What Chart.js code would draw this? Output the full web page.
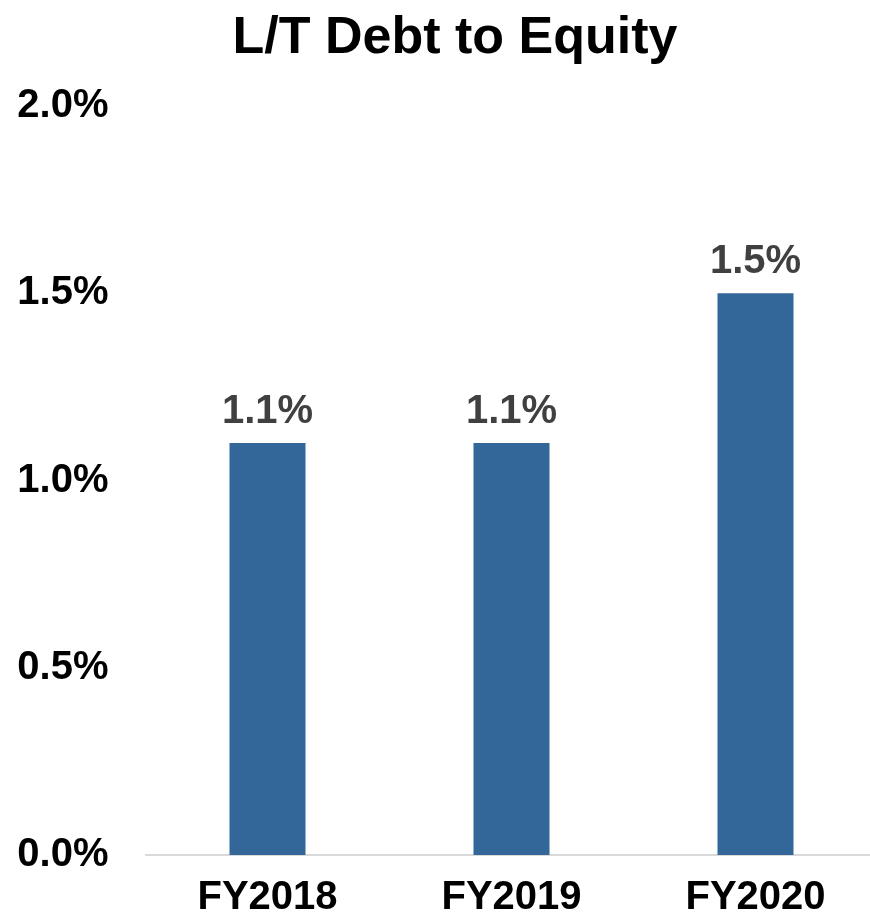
<!DOCTYPE html>
<html>
<head>
<meta charset="utf-8">
<script src="https://cdn.jsdelivr.net/npm/chart.js@4.4.1/dist/chart.umd.min.js"></script>
<style>
  html, body { margin: 0; padding: 0; background: #ffffff; overflow: hidden; width: 870px; height: 921px; }
  #wrap { position: absolute; left: 0; top: 0; width: 880px; height: 921px; }
  canvas { display: block; }
</style>
</head>
<body>
<div id="wrap"><canvas id="c" width="880" height="921"></canvas></div>
<script>
const categories = ['FY2018', 'FY2019', 'FY2020'];
const debtToEquity = [1.1, 1.1, 1.5];
const yTicks = [0.0, 0.5, 1.0, 1.5, 2.0];
const chartTitle = 'L/T Debt to Equity';

const FONT = "'Liberation Sans', Arial, sans-serif";

const valueLabels = {
  id: 'valueLabels',
  afterDatasetsDraw(chart) {
    const ctx = chart.ctx;
    const meta = chart.getDatasetMeta(0);
    ctx.save();
    ctx.font = "bold 40px " + FONT;
    ctx.fillStyle = '#404040';
    ctx.textAlign = 'center';
    ctx.textBaseline = 'alphabetic';
    meta.data.forEach((bar, i) => {
      ctx.fillText(debtToEquity[i].toFixed(1) + '%', bar.x, bar.y - 20);
    });
    ctx.restore();
  }
};

const titlePlugin = {
  id: 'titlePlugin',
  afterDraw(chart) {
    const ctx = chart.ctx;
    ctx.save();
    ctx.font = "bold 52px " + FONT;
    ctx.fillStyle = '#000000';
    ctx.textAlign = 'center';
    ctx.textBaseline = 'alphabetic';
    ctx.fillText(chartTitle, 455, 53);
    ctx.restore();
  }
};

new Chart(document.getElementById('c'), {
  type: 'bar',
  data: {
    labels: categories,
    datasets: [{
      data: debtToEquity,
      backgroundColor: '#336699',
      borderWidth: 0,
      categoryPercentage: 1.0,
      barPercentage: 0.3115
    }]
  },
  options: {
    responsive: false,
    animation: false,
    layout: { padding: { left: 17, right: 2.5, top: 106, bottom: 0 } },
    plugins: {
      legend: { display: false },
      tooltip: { enabled: false },
      title: { display: false }
    },
    scales: {
      x: {
        afterFit(scale) { scale.height = 66; },
        grid: { display: false, drawTicks: false },
        border: { display: true, color: '#d9d9d9', width: 2 },
        ticks: {
          color: '#000000',
          font: { family: FONT, size: 40, weight: 'bold', lineHeight: 1.15 },
          padding: 20,
          maxRotation: 0
        }
      },
      y: {
        min: 0,
        max: 2.0,
        afterBuildTicks(scale) {
          scale.ticks = yTicks.map(v => ({ value: v }));
        },
        afterFit(scale) { scale.width = 128.5; },
        grid: { display: false, drawTicks: false },
        border: { display: false },
        ticks: {
          color: '#000000',
          font: { family: FONT, size: 40, weight: 'bold', lineHeight: 1.2 },
          padding: 37,
          callback: (v) => Number(v).toFixed(1) + '%'
        }
      }
    }
  },
  plugins: [valueLabels, titlePlugin]
});
</script>
</body>
</html>
